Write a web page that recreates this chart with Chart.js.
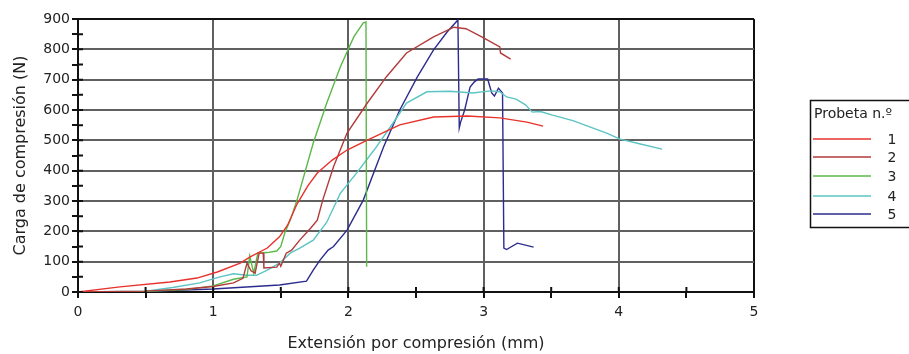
<!DOCTYPE html>
<html>
<head>
<meta charset="utf-8">
<script src="https://cdn.jsdelivr.net/npm/chart.js@4"></script>
<style>
  html, body { margin: 0; padding: 0; background: #fff; }
</style>
</head>
<body>
<canvas id="chartCanvas" width="909" height="354"></canvas>
<script>
// Probeta 1
const s1x = [0, 0.31, 0.68, 0.88, 1.03, 1.2, 1.27, 1.4, 1.49, 1.55, 1.62, 1.7, 1.77, 1.88, 1.99, 2.14, 2.38, 2.63, 2.88, 3.12, 3.32, 3.44];
const s1y = [0, 17, 33, 46, 66, 95, 115, 145, 182, 220, 290, 350, 392, 435, 468, 501, 551, 577, 580, 574, 560, 547];
// Probeta 2
const s2x = [0, 0.5, 0.8, 1.0, 1.15, 1.22, 1.25, 1.28, 1.31, 1.34, 1.37, 1.375, 1.47, 1.49, 1.5, 1.54, 1.58, 1.64, 1.72, 1.77, 1.81, 1.89, 1.99, 2.14, 2.28, 2.43, 2.63, 2.78, 2.87, 3.0, 3.12, 3.125, 3.2];
const s2y = [0, 3, 10, 18, 30, 45, 95, 70, 62, 128, 128, 79, 82, 95, 85, 128, 138, 171, 210, 237, 303, 413, 524, 623, 709, 788, 841, 873, 868, 838, 808, 788, 768];
// Probeta 3
const s3x = [0, 0.5, 0.8, 1.0, 1.15, 1.25, 1.27, 1.3, 1.33, 1.4, 1.47, 1.5, 1.53, 1.57, 1.62, 1.74, 1.84, 1.94, 2.04, 2.11, 2.13, 2.135];
const s3y = [0, 2, 8, 20, 42, 50, 119, 62, 128, 130, 135, 150, 195, 237, 303, 491, 623, 742, 841, 887, 890, 83];
// Probeta 4
const s4x = [0, 0.5, 0.7, 0.9, 1.05, 1.15, 1.25, 1.32, 1.4, 1.49, 1.57, 1.64, 1.74, 1.84, 1.94, 2.06, 2.19, 2.31, 2.43, 2.58, 2.75, 2.92, 3.05, 3.12, 3.17, 3.24, 3.31, 3.36, 3.42, 3.51, 3.66, 3.91, 4.01, 4.16, 4.32];
const s4y = [0, 3, 15, 30, 50, 60, 55, 55, 72, 95, 128, 145, 171, 230, 325, 392, 468, 544, 623, 660, 662, 656, 663, 660, 643, 636, 617, 593, 595, 583, 565, 524, 504, 488, 471];
// Probeta 5
const s5x = [0, 0.5, 1.0, 1.49, 1.69, 1.74, 1.79, 1.85, 1.89, 1.99, 2.11, 2.26, 2.38, 2.51, 2.63, 2.73, 2.81, 2.82, 2.83, 2.86, 2.9, 2.93, 2.96, 3.03, 3.06, 3.08, 3.11, 3.14, 3.15, 3.17, 3.25, 3.37];
const s5y = [0, 2, 10, 23, 36, 72, 105, 138, 150, 204, 303, 478, 600, 709, 798, 857, 897, 541, 560, 600, 676, 692, 702, 702, 656, 646, 672, 656, 145, 140, 161, 148];

const seriesNames = ['1', '2', '3', '4', '5'];
const seriesColors = ['#e8322c', '#b23a3a', '#5cb84a', '#5cc4c4', '#2c2c8e'];
const xs = [s1x, s2x, s3x, s4x, s5x];
const ys = [s1y, s2y, s3y, s4y, s5y];

const txt = '#222';
const gridGray = '#606060';

// tick marks in the reference cross the axis, so add the inner half
const innerTicks = {
  id: 'innerTicks',
  afterDraw(chart) {
    const c = chart.ctx;
    const xs_ = chart.scales.x, ys_ = chart.scales.y;
    const a = chart.chartArea;
    c.save();
    c.strokeStyle = '#111';
    c.lineWidth = 2;
    c.beginPath();
    xs_.ticks.forEach(t => {
      const px = xs_.getPixelForValue(t.value);
      c.moveTo(px, a.bottom);
      c.lineTo(px, a.bottom - 5);
    });
    ys_.ticks.forEach(t => {
      const py = ys_.getPixelForValue(t.value);
      c.moveTo(a.left, py);
      c.lineTo(a.left + 5, py);
    });
    c.stroke();
    c.restore();
  }
};

const legendBox = {
  id: 'legendBox',
  afterDraw(chart) {
    const c = chart.ctx;
    c.save();
    c.strokeStyle = '#111';
    c.lineWidth = 1.5;
    c.strokeRect(810.5, 100.5, 110, 127);
    c.fillStyle = txt;
    c.font = '14px "DejaVu Sans"';
    c.textBaseline = 'middle';
    c.textAlign = 'left';
    c.fillText('Probeta n.º', 814, 114);
    const rows = [139, 157, 176, 196, 214];
    chart.data.datasets.forEach((ds, i) => {
      c.strokeStyle = ds.borderColor;
      c.lineWidth = 1.5;
      c.beginPath();
      c.moveTo(813, rows[i]);
      c.lineTo(871, rows[i]);
      c.stroke();
      c.textAlign = 'center';
      c.fillText(ds.label, 892, rows[i] + 1);
    });
    c.restore();
  }
};

new Chart(document.getElementById('chartCanvas').getContext('2d'), {
  type: 'scatter',
  data: {
    datasets: seriesNames.map((name, i) => ({
      label: name,
      data: xs[i].map((x, j) => ({ x: x, y: ys[i][j] })),
      showLine: true,
      borderColor: seriesColors[i],
      backgroundColor: seriesColors[i],
      borderWidth: 1.4,
      pointRadius: 0,
      tension: 0
    }))
  },
  options: {
    responsive: false,
    animation: false,
    layout: { padding: { top: 19, right: 155, left: 0, bottom: 0 } },
    plugins: {
      legend: { display: false },
      tooltip: { enabled: false }
    },
    scales: {
      x: {
        type: 'linear',
        min: 0,
        max: 5,
        afterFit: s => { s.height = 62; },
        ticks: {
          stepSize: 0.5,
          autoSkip: false,
          maxRotation: 0,
          padding: 6,
          color: txt,
          font: { family: 'DejaVu Sans', size: 14 },
          callback: v => Number.isInteger(v) ? v : ''
        },
        grid: {
          color: ctx => {
            const v = ctx.tick.value;
            if (v === 5) return '#111';
            return Number.isInteger(v) ? gridGray : 'rgba(0,0,0,0)';
          },
          lineWidth: 2,
          tickColor: '#111',
          tickLength: 6,
          tickWidth: 2
        },
        border: { color: '#111', width: 2 },
        title: {
          display: true,
          text: 'Extensión por compresión (mm)',
          color: txt,
          font: { family: 'DejaVu Sans', size: 16 },
          padding: { top: 4, bottom: 1 }
        }
      },
      y: {
        min: 0,
        max: 900,
        afterFit: s => { s.width = 78; },
        ticks: {
          stepSize: 50,
          autoSkip: false,
          padding: 2,
          color: txt,
          font: { family: 'DejaVu Sans', size: 14 },
          callback: v => v % 100 === 0 ? v : ''
        },
        grid: {
          color: ctx => {
            const v = ctx.tick.value;
            if (v === 900) return '#111';
            return v % 100 === 0 ? gridGray : 'rgba(0,0,0,0)';
          },
          lineWidth: 2,
          tickColor: '#111',
          tickLength: 6,
          tickWidth: 2
        },
        border: { color: '#111', width: 2 },
        title: {
          display: true,
          text: 'Carga de compresión (N)',
          color: txt,
          font: { family: 'DejaVu Sans', size: 16 },
          padding: { top: 11, bottom: 4 }
        }
      }
    }
  },
  plugins: [innerTicks, legendBox]
});
</script>
</body>
</html>
